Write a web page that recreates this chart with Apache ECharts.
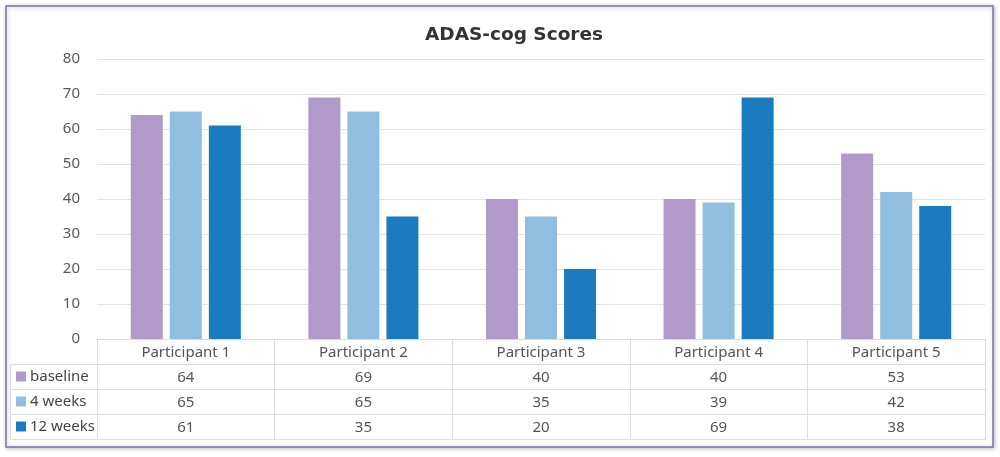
<!DOCTYPE html>
<html><head><meta charset="utf-8">
<script src="https://cdn.jsdelivr.net/npm/echarts@6/dist/echarts.min.js"></script>
<style>html,body{margin:0;padding:0;background:#fff}#c{width:1000px;height:457px}</style>
</head><body><div id="c"></div>
<script>
const categories = ['Participant 1','Participant 2','Participant 3','Participant 4','Participant 5'];
const seriesNames = ['baseline','4 weeks','12 weeks'];
const baseline = [64, 69, 40, 40, 53];
const weeks4 = [65, 65, 35, 39, 42];
const weeks12 = [61, 35, 20, 69, 38];
const yTicks = [0,10,20,30,40,50,60,70,80];
const colors = ['#b09aca','#8fbee0','#1a7bbf'];
const allData = [baseline, weeks4, weeks12];

const FONT = 'Noto Sans';
const gridL = 97, gridR = 15, gridTop = 59, gridBot = 118;
const rowH = 25, headTop = 339;

const chart = echarts.init(document.getElementById('c'));
const graphics = [];
graphics.push({type:'rect', shape:{x:6,y:6,width:987,height:441}, style:{fill:'#fff', stroke:'#7d70ae', lineWidth:1.5, shadowBlur:4, shadowColor:'rgba(0,0,0,0.25)', shadowOffsetX:1, shadowOffsetY:1}, z:-10});
for (let r = 1; r <= 4; r++) {
  const y = headTop + r*rowH + 0.5;
  graphics.push({type:'line', shape:{x1:10,y1:y,x2:1000-gridR,y2:y}, style:{stroke:'#dcdcdc', lineWidth:1}, z:5});
}
graphics.push({type:'line', shape:{x1:10.5,y1:headTop+rowH,x2:10.5,y2:headTop+4*rowH}, style:{stroke:'#dcdcdc', lineWidth:1}, z:5});
seriesNames.forEach((n,i)=>{
  const cy = headTop + (i+1)*rowH + rowH/2;
  graphics.push({type:'rect', shape:{x:16,y:cy-5,width:10,height:10}, style:{fill:colors[i]}, z:6});
  graphics.push({type:'text', x:30, y:cy, style:{text:n, fill:'#444', font:'15px "'+FONT+'"', verticalAlign:'middle', align:'left'}, z:6});
});

const option = {
  animation:false,
  backgroundColor:'#fff',
  title:{text:'ADAS-cog Scores', left:420, top:21, textStyle:{fontFamily:'DejaVu Sans', fontWeight:'bold', fontSize:18.5, color:'#333'}},
  grid:{left:gridL, right:gridR, top:gridTop, bottom:gridBot},
  xAxis:{type:'category', data:categories,
    axisLine:{show:true, lineStyle:{color:'#dcdcdc'}},
    axisTick:{show:true, length:rowH*4+1, interval:0, lineStyle:{color:'#dcdcdc'}},
    axisLabel:{interval:0, margin:1, fontFamily:FONT,
      formatter:(v,idx)=> '{h|'+v+'}\n' + allData.map(d=>'{v|'+d[idx]+'}').join('\n'),
      rich:{h:{fontFamily:FONT, fontSize:15, color:'#555', lineHeight:rowH, height:rowH}, v:{fontFamily:FONT, fontSize:15, color:'#555', lineHeight:rowH, height:rowH}}
    }},
  yAxis:{type:'value', min:0, max:80, interval:10,
    axisLine:{show:false}, axisTick:{show:false},
    axisLabel:{margin:17, fontFamily:FONT, fontSize:15, color:'#595959', formatter:v=> yTicks.includes(v)? String(v):''},
    splitLine:{lineStyle:{color:'#e3e3e3'}}},
  series: seriesNames.map((n,i)=>({name:n, type:'bar', data:allData[i], barWidth:32, barGap:'22%', itemStyle:{color:colors[i]}})),
  graphic: graphics
};
chart.setOption(option);
</script></body></html>
